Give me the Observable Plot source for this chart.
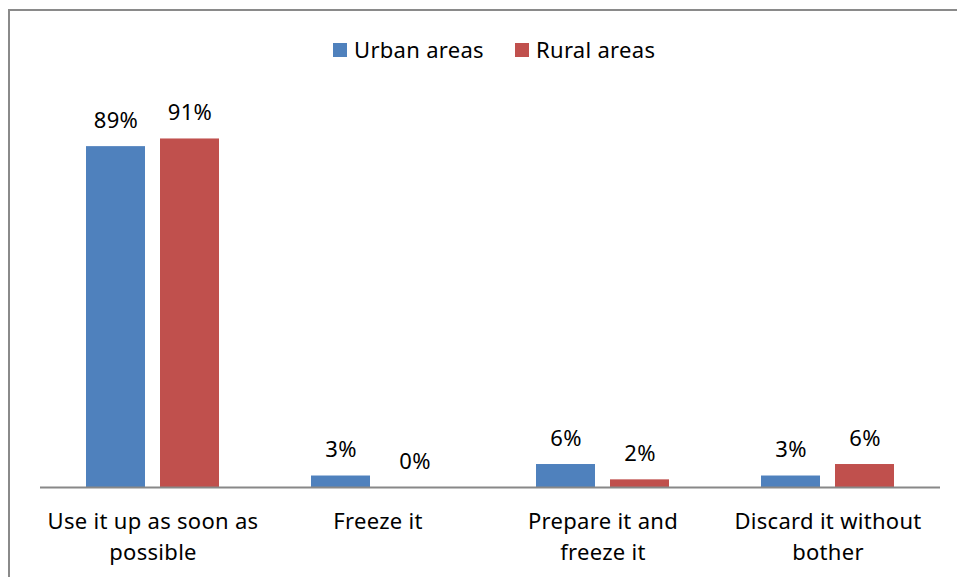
<!DOCTYPE html>
<html>
<head>
<meta charset="utf-8">
<script src="https://cdn.jsdelivr.net/npm/d3@7"></script>
<script src="https://cdn.jsdelivr.net/npm/@observablehq/plot@0.6"></script>
<style>
  html, body { margin: 0; padding: 0; background: #fff; overflow: hidden; }
  body { width: 957px; height: 577px; position: relative; font-family: "Noto Sans", sans-serif; }
  #frame { position: absolute; left: 8px; top: 9px; width: 1000px; height: 1000px; border: 2px solid #8a8a8a; pointer-events: none; z-index: 5; }
  #legend { position: relative; width: 957px; height: 70px; }
  #legend .sw { position: absolute; top: 43px; width: 14px; height: 14px; }
  #legend .lb { position: absolute; top: 38px; line-height: 22px; font-size: 22px; letter-spacing: 0.3px; color: #000; white-space: nowrap; }
  #chart { position: relative; }
</style>
</head>
<body>
<div id="frame"></div>
<div id="legend"></div>
<div id="chart"></div>
<script>
const categories = ["Use it up as soon as possible", "Freeze it", "Prepare it and freeze it", "Discard it without bother"];
const tickLabels = ["Use it up as soon as\npossible", "Freeze it", "Prepare it and\nfreeze it", "Discard it without\nbother"];
const series = ["Urban areas", "Rural areas"];
const urban = [89, 3, 6, 3];
const rural = [91, 0, 2, 6];
const colors = ["#4F81BD", "#C0504D"];

const data = categories.flatMap((c, i) => [
  {category: c, series: series[0], value: urban[i]},
  {category: c, series: series[1], value: rural[i]}
]);

// legend
const legend = document.getElementById("legend");
const legendPos = [{sw: 333, lb: 354}, {sw: 515, lb: 536}];
series.forEach((s, i) => {
  const sw = document.createElement("div");
  sw.className = "sw";
  sw.style.left = legendPos[i].sw + "px";
  sw.style.background = colors[i];
  legend.appendChild(sw);
  const lb = document.createElement("div");
  lb.className = "lb";
  lb.style.left = legendPos[i].lb + "px";
  lb.textContent = s;
  legend.appendChild(lb);
});

const chart = Plot.plot({
  width: 957,
  height: 507,
  marginLeft: 39,
  marginRight: 16,
  marginTop: 34,
  marginBottom: 90,
  style: {fontFamily: "Noto Sans", fontSize: "22px", color: "#000", background: "transparent", letterSpacing: "0.3px"},
  fx: {domain: categories, padding: 0, label: null},
  x: {domain: series, paddingInner: 0.2, paddingOuter: 0.603, axis: null},
  y: {domain: [0, 100], axis: null},
  color: {domain: series, range: colors},
  marks: [
    Plot.barY(data, {fx: "category", x: "series", y: "value", fill: "series"}),
    Plot.ruleY([0], {stroke: "#888888", strokeWidth: 2}),
    Plot.text(data, {fx: "category", x: "series", y: "value", text: d => d.value + "%", dy: -19, lineAnchor: "bottom", fontSize: 22, fill: "#000"}),
    Plot.axisFx({
      anchor: "bottom",
      tickSize: 0,
      tickPadding: 19,
      lineHeight: 1.42,
      fontSize: 22,
      label: null,
      fill: "#000",
      tickFormat: d => tickLabels[categories.indexOf(d)]
    })
  ]
});
document.getElementById("chart").appendChild(chart);
</script>
</body>
</html>
